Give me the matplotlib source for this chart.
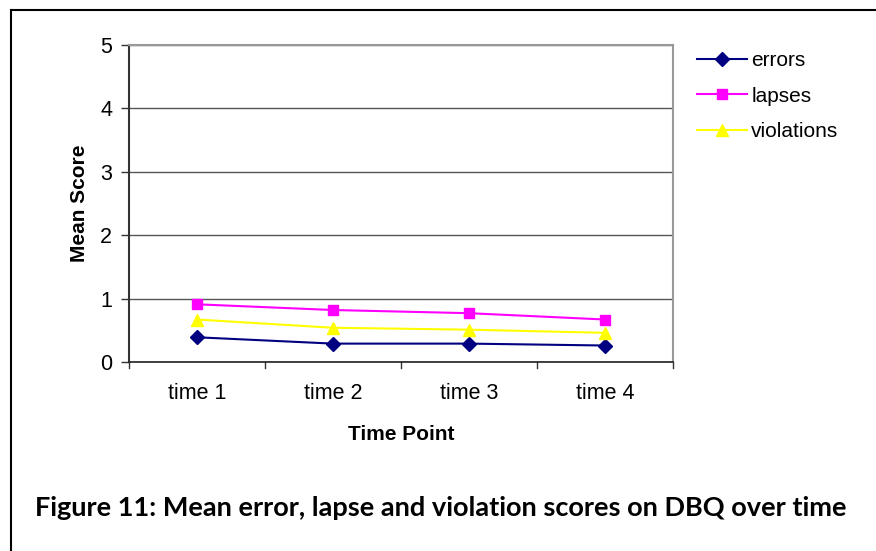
import matplotlib
matplotlib.use("Agg")
import matplotlib.pyplot as plt
from matplotlib.lines import Line2D

# DBQ mean scores at each time point
time_points = ["time 1", "time 2", "time 3", "time 4"]
errors = [0.39, 0.29, 0.29, 0.26]
lapses = [0.91, 0.82, 0.77, 0.67]
violations = [0.67, 0.54, 0.51, 0.46]
y_ticks = [0, 1, 2, 3, 4, 5]

plt.rcParams["font.family"] = ["Liberation Sans", "DejaVu Sans"]

fig = plt.figure(figsize=(8.76, 5.51), dpi=100)
ax = fig.add_axes([129 / 876, 1 - 362 / 551, (673 - 129) / 876, (362 - 45) / 551])

x = list(range(len(time_points)))
series = [
    ("errors", errors, "#000080", "D", 7),
    ("lapses", lapses, "#FF00FF", "s", 7.5),
    ("violations", violations, "#FFFF00", "^", 9),
]
for name, vals, col, mk, ms in series:
    ax.plot(x, vals, color=col, marker=mk, markersize=ms, linewidth=1.5,
            markeredgecolor=col, label=name, zorder=3)

ax.set_xlim(-0.5, len(time_points) - 0.5)
ax.set_ylim(0, 5)
ax.set_yticks(y_ticks)
ax.set_yticklabels([str(v) for v in y_ticks], fontsize=15.5)
ax.set_xticks(x)
ax.set_xticklabels(time_points, fontsize=15.5)
ax.tick_params(axis="x", length=0, pad=15)
ax.tick_params(axis="y", length=6, width=1, color="#333333", pad=6)

# category separators below the axis
for b in [i - 0.5 for i in range(len(time_points) + 1)]:
    ax.plot([b, b], [0, -0.1], color="#333333", linewidth=1, clip_on=False)

ax.yaxis.grid(True, color="#555555", linewidth=1)
ax.set_axisbelow(True)
for side in ["top", "right"]:
    ax.spines[side].set_color("#999999")
    ax.spines[side].set_linewidth(1.5)
ax.spines["left"].set_color("#333333")
ax.spines["left"].set_linewidth(1.5)
ax.spines["bottom"].set_color("#222222")
ax.spines["bottom"].set_linewidth(1.2)

ax.set_ylabel("Mean Score", fontsize=15, fontweight="bold", labelpad=8)
ax.set_xlabel("Time Point", fontsize=15, fontweight="bold", labelpad=15)

handles = [Line2D([], [], color=c, marker=m, markersize=s, linewidth=1.5,
                  markeredgecolor=c) for _, _, c, m, s in series]
fig.legend(handles, [s[0] for s in series], loc="upper left",
           bbox_to_anchor=(697 / 876, 1 - 51 / 551), frameon=False,
           fontsize=15, handlelength=2.4, handletextpad=0.2, labelspacing=0.8,
           borderaxespad=0, borderpad=0)

# outer frame (top and left edges)
fig.add_artist(Line2D([11 / 876, 1], [1 - 10 / 551, 1 - 10 / 551],
                      transform=fig.transFigure, color="black", linewidth=1.5))
fig.add_artist(Line2D([11 / 876, 11 / 876], [0, 1 - 10 / 551],
                      transform=fig.transFigure, color="black", linewidth=1.5))

fig.text(35 / 876, 1 - 508 / 551,
         "Figure 11: Mean error, lapse and violation scores on DBQ over time",
         fontsize=19.5, fontweight="bold", family=["Lato", "DejaVu Sans"],
         va="center", ha="left")

fig.savefig("out.png", dpi=100)
